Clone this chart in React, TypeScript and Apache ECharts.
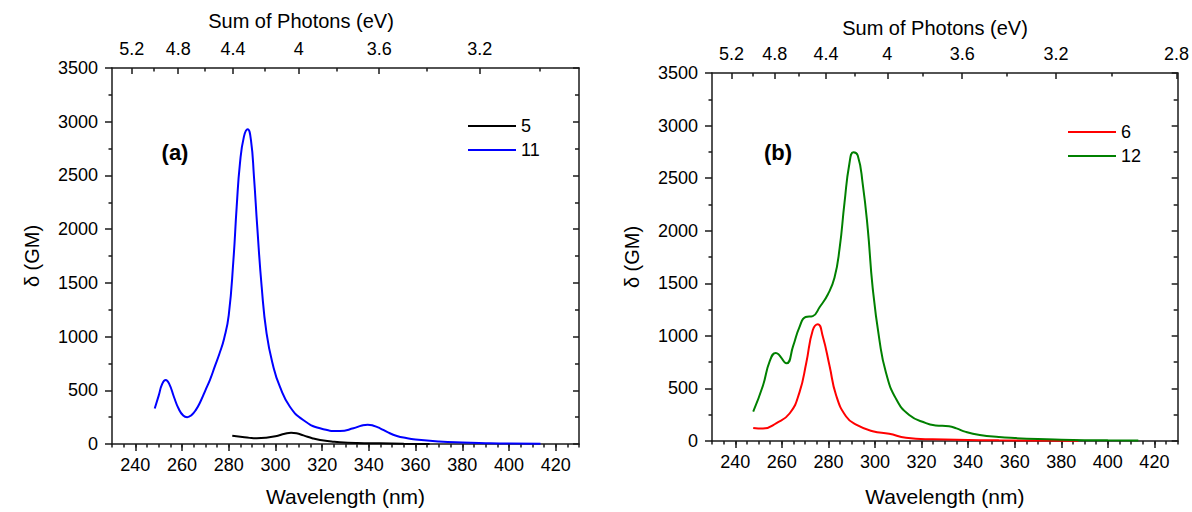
import React, { useEffect, useRef } from "react";
import * as echarts from "echarts";

// ---- tick labels ----
const wavelengthTicks = [240, 260, 280, 300, 320, 340, 360, 380, 400, 420];
const wavelengthMinorTicks: number[] = [];
for (let w = 230; w <= 430; w += 5) wavelengthMinorTicks.push(w);
const energyTicksA = [5.2, 4.8, 4.4, 4.0, 3.6, 3.2];
const energyMinorA = [5.0, 4.6, 4.2, 3.8, 3.4, 3.0];
const energyTicksB = [5.2, 4.8, 4.4, 4.0, 3.6, 3.2, 2.8];
const energyMinorB = [5.0, 4.6, 4.2, 3.8, 3.4, 3.0];
const HC = 1240; // eV·nm

// ---- panel (a) series ----
const series5: [number, number][] = [
  [281.5, 77], [285, 68], [289, 57], [292, 53], [296, 58], [300, 72], [304, 95],
  [306.7, 105], [309, 100], [312, 80], [316, 52], [319.1, 37], [324, 24],
  [327.6, 16], [335, 9], [344.8, 6], [355, 3], [366, 1],
];
const series11: [number, number][] = [
  [248.3, 330], [250, 450], [251.5, 560], [253, 596], [254.5, 560], [256.5, 440],
  [258.5, 330], [260.5, 265], [262.2, 250], [264, 268], [266, 320], [268, 400],
  [270, 500], [272, 600], [274, 720], [276, 840], [278, 980], [280, 1200],
  [282, 1713], [283.4, 2209], [284.8, 2613], [286.5, 2861], [288.1, 2930],
  [289.5, 2830], [290.8, 2488], [292.2, 2023], [294.1, 1464], [296.2, 1030],
  [299.1, 720], [301.9, 533], [306.2, 347], [311.9, 223], [319.1, 146], [327.6, 121],
  [333.4, 146], [337, 172], [339.5, 180], [342, 170], [344.8, 146], [348, 110],
  [352, 75], [356, 55], [360, 42], [370, 24], [380, 14], [390, 8], [400, 4], [413.5, 2],
];

// ---- panel (b) series ----
const series6: [number, number][] = [
  [247.7, 124], [251.9, 118], [257.7, 171], [263.4, 264], [267.6, 465], [270.5, 745],
  [273.3, 1055], [275.5, 1111], [277.6, 993], [280.5, 714], [283.3, 435],
  [287.6, 233], [291.9, 155], [299, 93], [306.1, 68], [313.3, 31], [324.7, 16],
  [353.2, 6], [387.3, 2],
];
const series12: [number, number][] = [
  [247.7, 279], [251.9, 528], [254.8, 760], [257.4, 838], [262, 739], [264.8, 900],
  [267.6, 1086], [270.2, 1179], [273.3, 1188], [276.2, 1272], [279.8, 1396],
  [282.6, 1552], [284.8, 1831], [286.9, 2265], [289, 2637], [290.7, 2746],
  [292.6, 2715], [294.7, 2451], [296.9, 2017], [299, 1459], [301.9, 962],
  [304.7, 652], [309, 403], [314.7, 248], [321.9, 170], [326, 148], [331.8, 140],
  [335, 120], [339, 87], [345, 58], [353.2, 38], [360, 28], [370, 18], [380, 12],
  [390, 8], [400, 6], [413.1, 4],
];

const FONT = "'Liberation Sans', Arial, sans-serif";
const AXIS_COLOR = "#1a1a1a";
const ln = () => ({ color: AXIS_COLOR, width: 1.5 });

function xAxes(gi: number, topMin: number, topMax: number, eMajor: number[], eMinor: number[], nameGap: number) {
  return [
    {
      type: "value", gridIndex: gi, position: "bottom", min: 230, max: 430,
      axisLine: { show: true, lineStyle: ln() },
      axisTick: { show: true, customValues: wavelengthTicks, length: 7, lineStyle: ln() },
      axisLabel: { show: true, customValues: wavelengthTicks, fontSize: 18, margin: 12, color: "#000", fontFamily: FONT },
      splitLine: { show: false },
      name: "Wavelength (nm)", nameLocation: "middle", nameGap,
      nameTextStyle: { fontSize: 21, color: "#000", fontFamily: FONT },
    },
    {
      type: "value", gridIndex: gi, position: "bottom", min: 230, max: 430,
      axisLine: { show: false },
      axisTick: { show: true, customValues: wavelengthMinorTicks, length: 3.5, lineStyle: ln() },
      axisLabel: { show: false },
      splitLine: { show: false },
    },
    {
      type: "value", gridIndex: gi, position: "top", min: topMin, max: topMax,
      axisLine: { show: true, lineStyle: ln() },
      axisTick: { show: true, inside: true, customValues: eMajor.map((e) => HC / e), length: 6, lineStyle: ln() },
      axisLabel: {
        show: true, customValues: eMajor.map((e) => HC / e), fontSize: 18, margin: 10, color: "#000", fontFamily: FONT,
        formatter: (v: number) => String(Number((HC / v).toFixed(1))),
      },
      splitLine: { show: false },
    },
    {
      type: "value", gridIndex: gi, position: "top", min: topMin, max: topMax,
      axisLine: { show: false },
      axisTick: { show: true, inside: true, customValues: eMinor.map((e) => HC / e), length: 3.5, lineStyle: ln() },
      axisLabel: { show: false },
      splitLine: { show: false },
    },
  ];
}

function yAxes(gi: number) {
  return [
    {
      type: "value", gridIndex: gi, position: "left", min: 0, max: 3500, interval: 500,
      axisLine: { show: true, lineStyle: ln() },
      axisTick: { show: true, length: 7, lineStyle: ln() },
      minorTick: { show: true, splitNumber: 2, length: 3.5, lineStyle: ln() },
      axisLabel: { show: true, fontSize: 18, margin: 14, color: "#000", fontFamily: FONT, formatter: (v: number) => String(v) },
      splitLine: { show: false },
      minorSplitLine: { show: false },
      name: "δ (GM)", nameLocation: "middle", nameGap: 70, nameRotate: 90,
      nameTextStyle: { fontSize: 20, color: "#000", fontFamily: FONT },
    },
    {
      type: "value", gridIndex: gi, position: "right", min: 0, max: 3500, interval: 500,
      axisLine: { show: true, lineStyle: ln() },
      axisTick: { show: true, inside: true, length: 6, lineStyle: ln() },
      minorTick: { show: true, splitNumber: 2, length: 4, lineStyle: ln() },
      axisLabel: { show: false },
      splitLine: { show: false },
    },
  ];
}

function lineSeries(name: string, data: [number, number][], color: string, gi: number) {
  return {
    type: "line", name, data, xAxisIndex: gi * 4, yAxisIndex: gi * 2,
    symbol: "none", smooth: 0.5,
    lineStyle: { color, width: 2 }, itemStyle: { color },
  };
}

function label(text: string, x: number, y: number, size: number, bold = false) {
  return {
    type: "text", x, y,
    style: { text, fontSize: size, fontWeight: bold ? "bold" : "normal", fontFamily: FONT, fill: "#000", align: "center", verticalAlign: "middle" },
  };
}

export default function App() {
  const ref = useRef<HTMLDivElement>(null);
  useEffect(() => {
    if (!ref.current) return;
    const chart = echarts.init(ref.current, undefined, { renderer: "svg" });
    const legendCommon = {
      orient: "vertical", itemWidth: 48, itemHeight: 2, itemGap: 6, icon: "rect",
      textStyle: { fontSize: 18, color: "#000", fontFamily: FONT },
    };
    chart.setOption({
      animation: false,
      backgroundColor: "#fff",
      textStyle: { fontFamily: FONT },
      grid: [
        { left: 112, top: 68, width: 467, height: 376 },
        { left: 712, top: 73, width: 467, height: 377 },
      ],
      xAxis: [
        ...xAxes(0, 230, 430, energyTicksA, energyMinorA, 42),
        ...xAxes(1, 229.5, 443.4, energyTicksB, energyMinorB, 45),
      ],
      yAxis: [...yAxes(0), ...yAxes(1)],
      legend: [
        { ...legendCommon, data: ["5", "11"], left: 463, top: 112 },
        { ...legendCommon, data: ["6", "12"], left: 1063, top: 118 },
      ],
      graphic: [
        label("(a)", 175, 152, 22, true),
        label("(b)", 778, 152, 22, true),
        label("Sum of Photons (eV)", 301, 21, 20),
        label("Sum of Photons (eV)", 935, 28, 20),
      ],
      series: [
        lineSeries("5", series5, "#000000", 0),
        lineSeries("11", series11, "#0000ff", 0),
        lineSeries("6", series6, "#ff0000", 1),
        lineSeries("12", series12, "#008000", 1),
      ],
    });
    return () => chart.dispose();
  }, []);
  return (
    <div
      ref={ref}
      style={{ position: "fixed", left: 0, top: 0, width: 1192, height: 512, background: "#fff" }}
    />
  );
}
